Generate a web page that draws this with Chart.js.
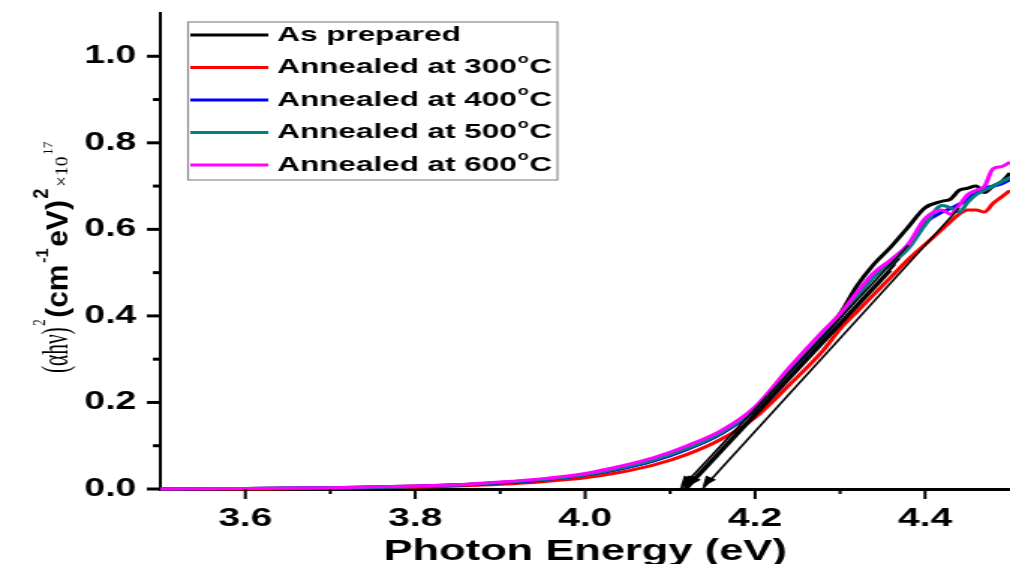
<!DOCTYPE html>
<html>
<head>
<meta charset="utf-8">
<script src="https://cdn.jsdelivr.net/npm/chart.js@4.4.0/dist/chart.umd.min.js"></script>
<style>
  html, body { margin: 0; padding: 0; background: #fff; overflow: hidden; }
  /* the reference is stretched sideways, so the canvas is drawn narrow and widened */
  #chart { position: absolute; left: 0; top: 0; transform: scaleX(1.4985); transform-origin: 0 0; }
</style>
</head>
<body>
<canvas id="chart" width="674" height="564"></canvas>
<script>
// photon energy (eV)
const energy = [3.50, 3.60, 3.70, 3.80, 3.85, 3.90, 3.95, 4.00, 4.04, 4.08, 4.12, 4.16, 4.20, 4.24, 4.28,
                4.30, 4.32, 4.34, 4.36, 4.38, 4.40, 4.42, 4.43, 4.44, 4.45, 4.46, 4.47, 4.48, 4.49, 4.50];

// (alpha h nu)^2 x 1e-17
const asPrepared = [0.000, 0.001, 0.003, 0.007, 0.010, 0.015, 0.022, 0.032, 0.046, 0.065, 0.092, 0.128, 0.185, 0.272, 0.360,
                    0.405, 0.470, 0.520, 0.560, 0.605, 0.650, 0.665, 0.670, 0.690, 0.695, 0.700, 0.685, 0.700, 0.710, 0.730];
const ann300 = [0.000, 0.000, 0.002, 0.004, 0.007, 0.011, 0.017, 0.026, 0.038, 0.055, 0.080, 0.115, 0.165, 0.240, 0.320,
                0.370, 0.410, 0.450, 0.490, 0.530, 0.565, 0.600, 0.618, 0.635, 0.645, 0.645, 0.640, 0.660, 0.675, 0.690];
const ann400 = [0.000, 0.001, 0.003, 0.006, 0.009, 0.014, 0.021, 0.032, 0.046, 0.065, 0.092, 0.128, 0.183, 0.270, 0.352,
                0.398, 0.445, 0.492, 0.525, 0.560, 0.615, 0.640, 0.648, 0.658, 0.668, 0.688, 0.695, 0.700, 0.705, 0.715];
const ann500 = [0.000, 0.001, 0.003, 0.006, 0.009, 0.015, 0.022, 0.033, 0.048, 0.067, 0.094, 0.130, 0.185, 0.272, 0.355,
                0.400, 0.445, 0.490, 0.520, 0.555, 0.610, 0.655, 0.650, 0.640, 0.662, 0.680, 0.690, 0.700, 0.710, 0.720];
const ann600 = [0.000, 0.001, 0.003, 0.007, 0.010, 0.016, 0.024, 0.036, 0.052, 0.072, 0.100, 0.135, 0.190, 0.280, 0.365,
                0.405, 0.455, 0.500, 0.530, 0.565, 0.625, 0.645, 0.635, 0.655, 0.680, 0.690, 0.700, 0.740, 0.745, 0.755];

const seriesNames = ['As prepared', 'Annealed at 300°C', 'Annealed at 400°C', 'Annealed at 500°C', 'Annealed at 600°C'];
const seriesColors = ['#000000', '#ff0000', '#0000ff', '#008080', '#ff00ff'];

// linear fits extrapolated to the energy axis (start on the axis, end up the slope)
const fitStartX = [4.112, 4.138, 4.116, 4.118, 4.120];
const fitEndX   = [4.380, 4.440, 4.370, 4.365, 4.360];
const fitEndY   = [0.563, 0.649, 0.533, 0.519, 0.504];

const xTicks = [3.6, 3.8, 4.0, 4.2, 4.4];
const yTicks = [0.0, 0.2, 0.4, 0.6, 0.8, 1.0];

const SANS = '"Liberation Sans", Arial, sans-serif';
const SERIF = '"Liberation Serif", "Times New Roman", serif';

Chart.defaults.color = '#000';
Chart.defaults.font.family = SANS;

function isMajor(v) {
    return Math.round(v * 10) % 2 === 0;
}

function points(vals) {
    return energy.map((e, i) => ({x: e, y: vals[i]}));
}

const curves = [asPrepared, ann300, ann400, ann500, ann600];
const curveOrder = [5, 4, 3, 2, 1];

let datasets = curves.map((vals, i) => ({
    label: seriesNames[i],
    data: points(vals),
    borderColor: seriesColors[i],
    borderWidth: 3,
    pointRadius: 0,
    cubicInterpolationMode: 'monotone',
    clip: false,
    order: curveOrder[i]
}));

for (let i = 0; i < fitStartX.length; i++) {
    datasets.push({
        label: 'fit ' + i,
        data: [{x: fitStartX[i], y: 0}, {x: fitEndX[i], y: fitEndY[i]}],
        borderColor: '#000',
        borderWidth: 1.6,
        pointRadius: 0,
        tension: 0,
        clip: false,
        order: 0
    });
}

// arrow heads at the axis end of each fit line
const fitArrows = {
    id: 'fitArrows',
    afterDatasetsDraw(chart) {
        const xs = chart.scales.x, ys = chart.scales.y, ctx = chart.ctx;
        ctx.save();
        ctx.fillStyle = '#000';
        for (let i = 0; i < fitStartX.length; i++) {
            const x1 = xs.getPixelForValue(fitEndX[i]), y1 = ys.getPixelForValue(fitEndY[i]);
            const x0 = xs.getPixelForValue(fitStartX[i]), y0 = ys.getPixelForValue(0) - 2;
            const a = Math.atan2(y1 - y0, x1 - x0);
            const len = 11, half = 4;
            const bx = x0 + Math.cos(a) * len, by = y0 + Math.sin(a) * len;
            ctx.beginPath();
            ctx.moveTo(x0, y0);
            ctx.lineTo(bx + Math.sin(a) * half, by - Math.cos(a) * half);
            ctx.lineTo(bx - Math.sin(a) * half, by + Math.cos(a) * half);
            ctx.closePath();
            ctx.fill();
        }
        ctx.restore();
    }
};

// outward major / minor tick marks
const tickMarks = {
    id: 'tickMarks',
    afterDraw(chart) {
        const ctx = chart.ctx, area = chart.chartArea;
        const xs = chart.scales.x, ys = chart.scales.y;
        ctx.save();
        ctx.strokeStyle = '#000';
        ctx.lineWidth = 2;
        xs.ticks.forEach(t => {
            if (t.value <= xs.min + 1e-6 || t.value >= xs.max - 1e-6) return;
            const px = xs.getPixelForValue(t.value);
            ctx.beginPath();
            ctx.moveTo(px, area.bottom);
            ctx.lineTo(px, area.bottom + (isMajor(t.value) ? 10 : 5));
            ctx.stroke();
        });
        ctx.lineWidth = 3;
        ys.ticks.forEach(t => {
            if (t.value >= ys.max - 1e-6) return;
            const py = ys.getPixelForValue(t.value);
            ctx.beginPath();
            ctx.moveTo(area.left - (isMajor(t.value) ? 9 : 5), py);
            ctx.lineTo(area.left, py);
            ctx.stroke();
        });
        ctx.restore();
    }
};

// boxed legend in the upper left of the plot
const legendBox = {
    id: 'legendBox',
    afterDraw(chart) {
        const ctx = chart.ctx;
        const left = 125.5, top = 22, right = 372, bottom = 180;
        const rowY0 = 35, rowStep = 32.5;
        ctx.save();
        ctx.strokeStyle = '#8c8c8c';
        ctx.lineWidth = 1.2;
        ctx.strokeRect(left, top, right - left, bottom - top);
        seriesNames.forEach((name, i) => {
            const y = rowY0 + i * rowStep;
            ctx.strokeStyle = seriesColors[i];
            ctx.lineWidth = 3;
            ctx.beginPath();
            ctx.moveTo(127, y);
            ctx.lineTo(179, y);
            ctx.stroke();

            ctx.fillStyle = '#000';
            ctx.textBaseline = 'middle';
            ctx.textAlign = 'left';
            const parts = name.split('°');
            let x = 185;
            ctx.font = 'bold 21px ' + SANS;
            ctx.fillText(parts[0], x, y);
            x += ctx.measureText(parts[0]).width;
            if (parts.length > 1) {
                ctx.font = 'bold 12px ' + SANS;
                ctx.fillText('o', x + 0.5, y - 8);
                x += ctx.measureText('o').width + 1;
                ctx.font = 'bold 21px ' + SANS;
                ctx.fillText(parts[1], x, y);
            }
        });
        ctx.restore();
    }
};

// rotated y title with mixed fonts and superscripts
const yTitle = {
    id: 'yTitle',
    afterDraw(chart) {
        const ctx = chart.ctx;
        const segs = [
            {t: '(αhν)', f: '26px ' + SERIF, k: 0.82, r: 0},
            {t: '2', f: '13px ' + SERIF, k: 1.0, r: -15},
            {t: '(cm', f: 'bold 20px ' + SANS, k: 1.5, r: 0},
            {t: '-1', f: 'bold 11px ' + SANS, k: 1.5, r: -13},
            {t: 'eV)', f: 'bold 20px ' + SANS, k: 1.5, r: 0},
            {t: '2', f: 'bold 14px ' + SANS, k: 1.3, r: -13},
            {t: '×10', f: '13px ' + SERIF, k: 1.5, r: 0},
            {t: '17', f: '9px ' + SERIF, k: 1.5, r: -10}
        ];
        ctx.save();
        ctx.translate(45, 373);
        ctx.rotate(-Math.PI / 2);
        ctx.fillStyle = '#000';
        ctx.textBaseline = 'alphabetic';
        ctx.textAlign = 'left';
        let x = 0;
        segs.forEach(s => {
            ctx.font = s.f;
            const w = ctx.measureText(s.t).width;
            ctx.save();
            ctx.translate(x, s.r);
            ctx.scale(s.k, 1);
            ctx.fillText(s.t, 0, 0);
            ctx.restore();
            x += w * s.k + 1.5;
        });
        ctx.restore();
    }
};

const config = {
    type: 'line',
    data: {datasets: datasets},
    options: {
        responsive: false,
        animation: false,
        devicePixelRatio: 1,
        layout: {padding: {top: 13, right: 0, left: 0, bottom: 0}},
        plugins: {
            legend: {display: false},
            tooltip: {enabled: false}
        },
        scales: {
            x: {
                type: 'linear',
                min: 3.5,
                max: 4.5,
                afterFit: s => { s.height = 75; s.paddingLeft = 0; s.paddingRight = 0; },
                grid: {display: true, drawOnChartArea: false, drawTicks: false},
                border: {display: true, color: '#000', width: 3},
                ticks: {
                    stepSize: 0.1,
                    autoSkip: false,
                    maxRotation: 0,
                    padding: 14,
                    font: {size: 26, weight: 'bold'},
                    callback: v => xTicks.some(t => Math.abs(t - v) < 1e-6) ? v.toFixed(1) : ''
                },
                title: {
                    display: true,
                    text: 'Photon Energy (eV)',
                    font: {size: 29, weight: 'bold', lineHeight: 0.8},
                    padding: 0
                }
            },
            y: {
                min: 0,
                max: 1.1,
                afterFit: s => { s.width = 107; s.paddingTop = 0; s.paddingBottom = 0; },
                grid: {display: true, drawOnChartArea: false, drawTicks: false},
                border: {display: true, color: '#000', width: 2},
                ticks: {
                    stepSize: 0.1,
                    autoSkip: false,
                    padding: 16,
                    font: {size: 25, weight: 'bold'},
                    callback: v => yTicks.some(t => Math.abs(t - v) < 1e-6) ? v.toFixed(1) : ''
                }
            }
        }
    },
    plugins: [fitArrows, tickMarks, legendBox, yTitle]
};

new Chart(document.getElementById('chart').getContext('2d'), config);
</script>
</body>
</html>
